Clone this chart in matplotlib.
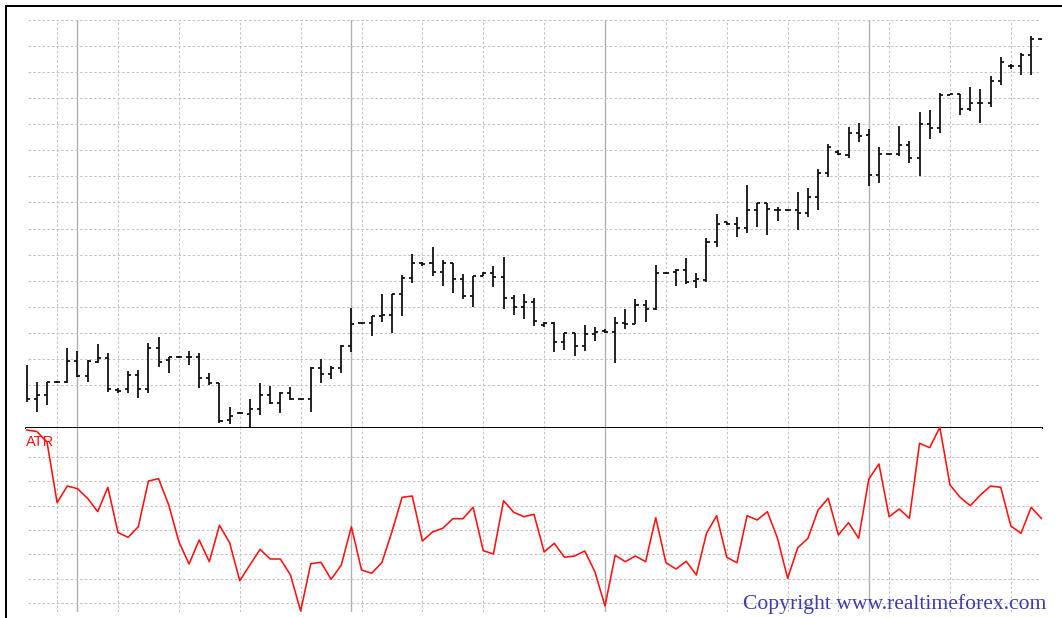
import matplotlib
matplotlib.use("Agg")
import matplotlib.pyplot as plt
from matplotlib.patches import Rectangle
import numpy as np

# price bars (arbitrary price points), one entry per bar
bar_high = [75, 58.3, 58.3, 59.5, 92.3, 89.3, 80, 96, 86.7, 51.7,
            69.3, 70, 97.3, 102.7, 83.3, 84, 89.3, 86.7, 67.3, 57.3,
            33.3, 28, 40.7, 56.7, 54, 48.3, 52.7, 41.3, 72.7, 80.7,
            74.3, 95, 131.7, 117.3, 124, 145.7, 145.7, 165, 185.7, 178,
            193.3, 180, 176.7, 166, 164, 168.3, 174, 182.7, 145, 145.7,
            141.7, 118.3, 117.7, 107.3, 107.3, 115, 112.7, 110.7, 122.7, 130.7,
            140.7, 140, 175, 168, 170.7, 181.7, 167.3, 201.7, 226, 218.3,
            222.7, 255, 237.3, 237.3, 232.7, 230.5, 248.3, 251.7, 270.7, 295.7,
            290, 312.7, 316.7, 310.7, 292.7, 286.5, 314.3, 299.3, 328.3, 330,
            346.7, 346.3, 345.7, 352.7, 350.7, 364, 383.3, 376, 387.3, 404,
            401]
bar_low = [38.3, 27.7, 35, 57.5, 56.7, 62.7, 58.3, 76.7, 48.3, 47.3,
           46.7, 41.7, 46.7, 72.7, 66.7, 82.5, 75, 51.7, 55, 16.7,
           16, 26, 12, 25, 36, 26.7, 40, 40, 27.7, 56.7,
           60.7, 66.7, 87.7, 116, 104.3, 118.3, 106.7, 124.3, 156.7, 174.3,
           164.3, 154, 146.7, 140.7, 133.3, 164, 152.7, 131, 125, 121,
           114.3, 113.3, 88.3, 90, 84, 89.3, 99.3, 107.3, 77.3, 111,
           116, 118.3, 130, 166.5, 154, 155.7, 151.7, 158.3, 193.3, 215,
           202.7, 206.7, 212.7, 205, 219.3, 229.3, 210, 223.3, 230, 263.3,
           284.7, 282.3, 298.3, 254, 256.7, 285, 284.3, 276.7, 264, 300.7,
           306.7, 344.7, 325, 329.3, 317.3, 333.3, 355, 371, 365, 365,
           400.3]
bar_open = [55, 41, 45, 58.3, 58.3, 79.3, 64.3, 77.7, 81.7, 50,
            50.7, 65, 51, 92.3, 80, 83.3, 83.3, 83.3, 61.7, 57.3,
            20, 27.3, 26, 30.7, 45, 37.3, 46.7, 40.7, 40.7, 71.7,
            66, 71.7, 94.3, 116.7, 116.7, 124, 125, 145.7, 162.3, 177,
            177.3, 167.7, 176.7, 161, 144.3, 164, 166.7, 163.3, 141.7, 133.3,
            138.3, 115, 117.3, 98.3, 106.7, 94.3, 106, 109.3, 108.3, 116.7,
            116, 135, 130.7, 167.3, 168.3, 170, 159.3, 160, 197.7, 218,
            216, 211.7, 230, 236.7, 230, 230, 230, 227.3, 243.3, 266.7,
            288.3, 285, 306.7, 305, 265, 285.7, 285.7, 295, 281.7, 316,
            311.7, 345, 345.7, 331, 337.3, 336.7, 359.3, 374.5, 374, 385,
            400.7]
bar_close = [40.7, 45, 58.3, 58.3, 79.3, 64.3, 79.3, 81.7, 50.7, 49.3,
             65, 51, 92.3, 77.7, 83.3, 83.3, 83.3, 61.7, 57.3, 19.3,
             24, 26.7, 30.7, 45, 37.3, 46.7, 40.7, 40.7, 71.7, 66,
             71.7, 94.3, 116, 116.7, 124, 125, 145.7, 162.3, 177.3, 176,
             167.7, 176.7, 161, 144.3, 164, 166.7, 163.3, 141.7, 133.3, 138.3,
             119.3, 117.3, 98.3, 106.7, 94.3, 106, 108.3, 108.3, 116.7, 116,
             135, 130.7, 167.3, 167.3, 170, 158.3, 160.7, 197.7, 216, 216,
             211.7, 230, 236.7, 230.7, 230, 230, 227.3, 243.3, 266.7, 293.3,
             286, 306.7, 304, 265, 285.7, 285.7, 295, 281.7, 316, 311.7,
             345, 345.7, 331, 337.3, 336.7, 359.3, 378.3, 374, 385, 400.7,
             400.7]

# ATR indicator, one value per bar
atr = [190, 188.5, 178, 117.3, 134, 131.3, 121.7, 108.3, 132.7, 87.3,
       82.7, 93.3, 139, 141.3, 115, 78.3, 56, 80, 58.3, 94.7,
       77.3, 39.3, 55, 70.7, 61, 61, 45, 9, 56.3, 57.7,
       40.7, 54.7, 93.3, 50, 46.7, 57.3, 88.3, 122.7, 124, 79,
       88, 91.7, 101.3, 101.3, 112.7, 69.3, 66, 119.3, 107.7, 103.3,
       105.7, 68, 76.7, 62.7, 64, 69, 48.3, 14, 64.7, 58.3,
       64, 58.3, 102.3, 57.3, 51, 58.7, 45, 86.7, 104.3, 62.7,
       57.3, 104.3, 100, 108.3, 81.7, 41.7, 72.3, 81.7, 110, 121.7,
       85, 97.3, 81.7, 141, 156, 103.3, 111, 101.7, 176.7, 172.3,
       192.7, 135, 122.7, 114.3, 125, 134, 132.7, 94, 86.7, 112.7,
       101.7]

# vertical grid positions (bar index) and period separators
grid_bars = [3, 9, 15, 21, 27, 33, 39, 45, 51, 63, 69, 75, 80, 85, 91, 97]
separator_bars = [5, 32, 57, 83]

W, H = 1062, 618
fig = plt.figure(figsize=(W / 100, H / 100), dpi=100)
fig.patch.set_facecolor("white")

x0, x1 = 26, 1042
ax = fig.add_axes([x0 / W, 1 - 428 / H, (x1 - x0) / W, (428 - 20) / H])
ax2 = fig.add_axes([x0 / W, 1 - 612 / H, (x1 - x0) / W, (612 - 428) / H])

x = np.arange(len(bar_high))
step = 10.146  # pixels per bar
xlim = (-(26.7 - x0) / step, 100 + (x1 - 1041.3) / step)
gx0, gx1 = (28 - 26.7) / step, (1040 - 26.7) / step

grid_kw = dict(color="#c4c4c4", linewidth=0.75, linestyle=(0, (2.5, 2)))
sep_kw = dict(color="#b0b0b0", linewidth=1.0)

for a in (ax, ax2):
    a.set_xlim(*xlim)
    a.set_xticks([])
    a.set_yticks([])
    for s in a.spines.values():
        s.set_visible(False)
    for b in grid_bars:
        a.axvline(b, zorder=1, **grid_kw)
    for b in separator_bars:
        a.axvline(b, zorder=1, **sep_kw)

# price panel
ax.set_ylim(12, 420)
for yv in 420 - 26.07 * np.arange(15):
    ax.hlines(yv, gx0, gx1, zorder=1, **grid_kw)
ax.vlines(x, bar_low, bar_high, color="#111111", linewidth=1.3, zorder=3)
ax.hlines(bar_open, x - 0.3, x, color="#111111", linewidth=1.3, zorder=3)
ax.hlines(bar_close, x, x + 0.3, color="#111111", linewidth=1.3, zorder=3)
ax.spines["bottom"].set_visible(True)
ax.spines["bottom"].set_color("black")
ax.spines["bottom"].set_linewidth(1.4)
ax.spines["bottom"].set_zorder(4)

# ATR panel
ax2.set_ylim(8, 192)
for yv in 163 - 24.33 * np.arange(7):
    ax2.hlines(yv, gx0, gx1, zorder=1, **grid_kw)
ax2.plot(x, atr, color="#ff1010", linewidth=1.15, zorder=3, clip_on=False)
fig.text(26 / W, 1 - 446.5 / H, "ATR", color="#ff1010", fontsize=10.5,
         family="Liberation Sans", va="baseline", ha="left")

fig.text(743 / W, 1 - 609 / H, "Copyright www.realtimeforex.com",
         color="#3d3dab", fontsize=15.6, family="Liberation Serif",
         va="baseline", ha="left")

# window frame (left and top edges)
fig.add_artist(Rectangle((4.5 / W, 0), 2.8 / W, (H - 4.5) / H,
                         transform=fig.transFigure, color="black", lw=0))
fig.add_artist(Rectangle((4.5 / W, 1 - 7.3 / H), (W - 4.5) / W, 2.8 / H,
                         transform=fig.transFigure, color="black", lw=0))

fig.savefig("out.png", dpi=100)
